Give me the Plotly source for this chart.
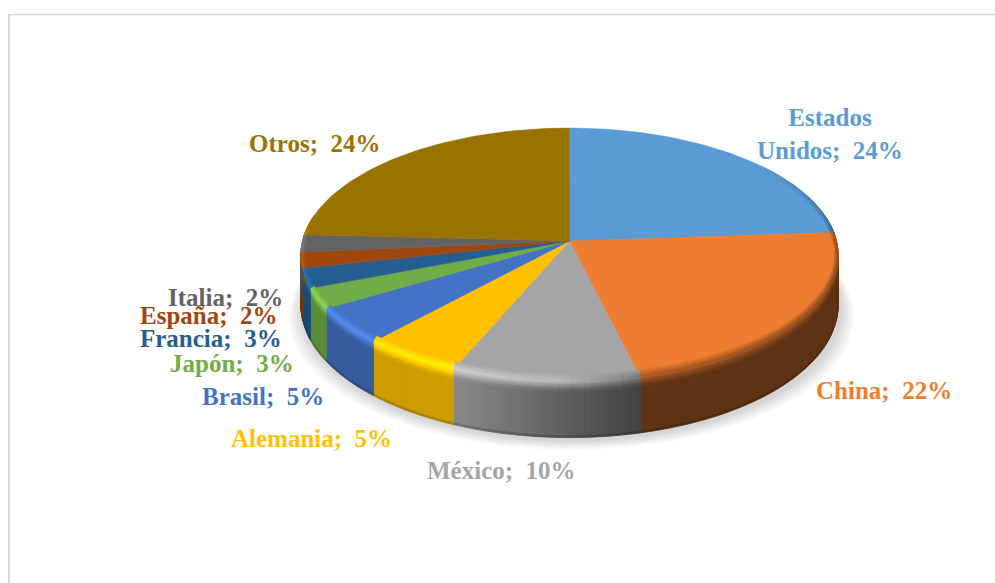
import numpy as np
import plotly.graph_objects as go

categories = ["Estados Unidos", "China", "México", "Alemania", "Brasil", "Japón", "Francia", "España", "Italia", "Otros"]
values = [23.9, 22.3, 10.2, 5.4, 4.7, 2.6, 2.5, 2.0, 2.2, 24.2]
label_text = ["Estados<br>Unidos;\u00a0\u00a024%", "China;\u00a0\u00a022%", "México;\u00a0\u00a010%", "Alemania;\u00a0\u00a05%",
              "Brasil;\u00a0\u00a05%", "Japón;\u00a0\u00a03%", "Francia;\u00a0\u00a03%", "España;\u00a0\u00a02%", "Italia;\u00a0\u00a02%", "Otros;\u00a0\u00a024%"]
colors = ["#5b9bd5", "#ed7d31", "#a5a5a5", "#ffc000", "#4472c4", "#70ad47", "#255e91", "#9e480e", "#636363", "#997300"]

label_x = [830, 884, 501, 311, 263, 232, 211, 209, 225, 314]
label_y = [134, 390, 470, 438, 396, 363, 338, 315, 297, 143]

# Perspective projection of the disc (pixel layout)
CX, CY, RX, RY, K, DEPTH = 569.5, 241.0, 267.0, 125.4, 0.11, 50.0


def project(theta_deg, r=1.0):
    t = np.radians(theta_deg)
    u, v = r * np.sin(t), r * np.cos(t)
    w = 1 + K * v
    return CX + RX * u / w, CY - RY * v / w


def inner(theta_deg, s):
    x, y = project(theta_deg)
    t = np.radians(theta_deg)
    return x - s * 4 * np.sin(t), y + s * 8 * np.cos(t)


def depth_at(theta_deg):
    return DEPTH / (1 + K * np.cos(np.radians(theta_deg)))


def rgb(h):
    return np.array([int(h[i:i + 2], 16) for i in (1, 3, 5)], float)


def css(c):
    c = np.clip(c, 0, 255).round().astype(int)
    return f"rgb({c[0]},{c[1]},{c[2]})"


def side_factor(x):
    return float(np.interp(x, [300, 460, 640, 840], [0.80, 0.82, 0.40, 0.40]))


def rim_factor(x):
    return float(np.interp(x, [300, 460, 560, 640, 840], [1.22, 1.25, 1.12, 0.72, 0.62]))


fig = go.Figure()


def poly(xs, ys, fill, lw=1.2):
    xs, ys = list(xs), list(ys)
    fig.add_trace(go.Scatter(x=xs + xs[:1], y=ys + ys[:1], mode="lines", fill="toself", fillcolor=fill,
                             line=dict(color=fill, width=lw), hoverinfo="skip", showlegend=False))


# soft shadow
a = np.linspace(0, 360, 181)
for grow in range(14, 0, -2):
    px, py = project(a)
    poly(CX + (px - CX) * (1 + grow / 266) + 2, py + depth_at(a) + 2 + grow * 0.7, "rgba(0,0,0,0.022)", 0)

cum = np.concatenate([[0], np.cumsum(values)]) / np.sum(values) * 360
STEP = 1.25

# side wall
for i, col in enumerate(colors):
    base = rgb(col)
    a0, a1 = max(cum[i], 78), min(cum[i + 1], 282)
    if a1 <= a0:
        continue
    n = max(1, int(np.ceil((a1 - a0) / STEP)))
    edges = np.linspace(a0, a1, n + 1)
    for s in range(n):
        t0, t1 = edges[s], edges[s + 1]
        x0, y0 = project(t0)
        x1, y1 = project(t1)
        xm = (x0 + x1) / 2
        body = base * side_factor(xm)
        top_col = base * rim_factor(xm)
        d0, d1 = depth_at(t0), depth_at(t1)
        poly([x0, x1, x1, x0], [y0 + 8, y1 + 8, y1 + d1 - 2, y0 + d0 - 2], css(body))
        poly([x0, x1, x1, x0], [y0 + d0 - 2.5, y1 + d1 - 2.5, y1 + d1 - 0.5, y0 + d0 - 0.5], css(body * 0.82), 0.8)
        for b in range(4):
            o0, o1 = b * 2.2, (b + 1) * 2.2
            c = top_col + (body - top_col) * ((b + 0.5) / 4)
            poly([x0, x1, x1, x0], [y0 + o0, y1 + o0, y1 + o1, y0 + o1], css(c), 0.8)

# top surface
for i, col in enumerate(colors):
    aa = np.linspace(cum[i], cum[i + 1], max(3, int((cum[i + 1] - cum[i]) / 1.5) + 1))
    ex, ey = project(aa)
    poly(np.r_[CX, ex], np.r_[CY, ey], col, 0.5)

# bevel on the top surface near the rim
for i, col in enumerate(colors):
    base = rgb(col)
    a0, a1 = max(cum[i], 50), min(cum[i + 1], 282)
    if a1 <= a0:
        continue
    n = max(1, int(np.ceil((a1 - a0) / STEP)))
    edges = np.linspace(a0, a1, n + 1)
    for s in range(n):
        t0, t1 = edges[s], edges[s + 1]
        tm = (t0 + t1) / 2
        xm = (project(t0)[0] + project(t1)[0]) / 2
        rim = base * rim_factor(xm)
        fade = float(np.interp(tm, [50, 90, 270, 282], [0, 1, 1, 0]))
        for b in range(4):
            s_out, s_in = 1 - (b + 1) / 4, 1 - b / 4  # from inner band to the rim
            c = base + (rim - base) * fade * ((b + 1) / 4)
            xa, ya = inner(t0, s_in)
            xb, yb = inner(t1, s_in)
            xc, yc = inner(t1, s_out)
            xd, yd = inner(t0, s_out)
            poly([xa, xb, xc, xd], [ya, yb, yc, yd], css(c), 0.6)

# data labels, Italia is painted before España
order = [0, 1, 2, 3, 4, 5, 6, 8, 7, 9]
for i in order:
    txt = "<b>" + label_text[i].replace("<br>", "</b><br><b>") + "</b>"
    fig.add_annotation(x=label_x[i], y=label_y[i], text=txt, showarrow=False, xanchor="center",
                       yanchor="middle", align="center",
                       font=dict(family="Liberation Serif", size=25, color=colors[i]))

fig.update_layout(
    width=995, height=583, margin=dict(l=0, r=0, t=0, b=0), paper_bgcolor="white", plot_bgcolor="white",
    xaxis=dict(range=[0, 995], visible=False, fixedrange=True),
    yaxis=dict(range=[583, 0], visible=False, fixedrange=True),
    showlegend=False,
    shapes=[
        dict(type="line", xref="x", yref="y", x0=8.5, x1=995, y0=14.5, y1=14.5, line=dict(color="#d9d9d9", width=1.4)),
        dict(type="line", xref="x", yref="y", x0=9, x1=9, y0=14, y1=583, line=dict(color="#d9d9d9", width=2)),
    ],
)
fig.write_html("out.html", config=dict(displayModeBar=False),
               post_script="document.documentElement.style.margin='0';document.body.style.margin='0';document.body.style.overflow='hidden';")
